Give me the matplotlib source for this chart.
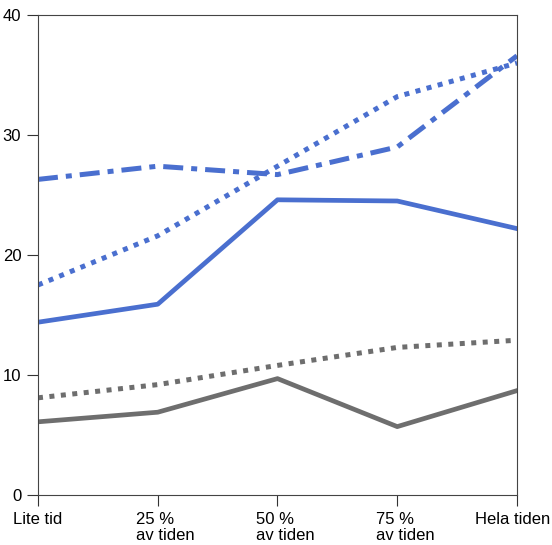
import matplotlib.pyplot as plt
import matplotlib.transforms as mtransforms

plt.rcParams['font.family'] = ['Liberation Sans', 'DejaVu Sans']

categories = ["Lite tid", "25 %\nav tiden", "50 %\nav tiden", "75 %\nav tiden", "Hela tiden"]
blue_dashdot = [26.3, 27.4, 26.7, 29.0, 36.6]
blue_dotted = [17.5, 21.6, 27.4, 33.2, 36.0]
blue_solid = [14.4, 15.9, 24.6, 24.5, 22.2]
gray_dotted = [8.1, 9.2, 10.8, 12.3, 12.9]
gray_solid = [6.1, 6.9, 9.7, 5.7, 8.7]

blue = "#4a6fcf"
gray = "#6e6e6e"

fig = plt.figure(figsize=(5.52, 5.45), dpi=100)
ax = fig.add_axes([0.0688, 0.0917, 0.8678, 0.8808])

x = range(len(categories))
ax.plot(x, blue_dashdot, color=blue, lw=3.6, linestyle=(0, (4, 1.6, 1.2, 1.6)))
ax.plot(x, blue_dotted, color=blue, lw=3.6, linestyle=(0, (1, 1.3)))
ax.plot(x, blue_solid, color=blue, lw=3.4)
ax.plot(x, gray_dotted, color=gray, lw=3.6, linestyle=(0, (1, 1.3)))
ax.plot(x, gray_solid, color=gray, lw=3.4)

ax.set_xlim(0, 4)
ax.set_ylim(0, 40)
ax.set_yticks([0, 10, 20, 30, 40])
ax.set_xticks(list(x))
ax.set_xticklabels(categories, multialignment='left', linespacing=1.1)

ax.tick_params(axis='both', direction='out', length=8, width=0.8, labelsize=12,
               colors='#333333', labelcolor='black')
ax.tick_params(axis='y', pad=4)
ax.tick_params(axis='x', pad=4)

# two-line labels sit a little right of the tick, the last one a bit left
labels = ax.get_xticklabels()
offset = mtransforms.ScaledTranslation(8 / 100, 0, fig.dpi_scale_trans)
for lab in labels[1:4]:
    lab.set_transform(lab.get_transform() + offset)
back = mtransforms.ScaledTranslation(-4 / 100, 0, fig.dpi_scale_trans)
labels[4].set_transform(labels[4].get_transform() + back)

for sp in ax.spines.values():
    sp.set_linewidth(0.8)
    sp.set_color('#444444')

fig.savefig("out.png", dpi=100)
